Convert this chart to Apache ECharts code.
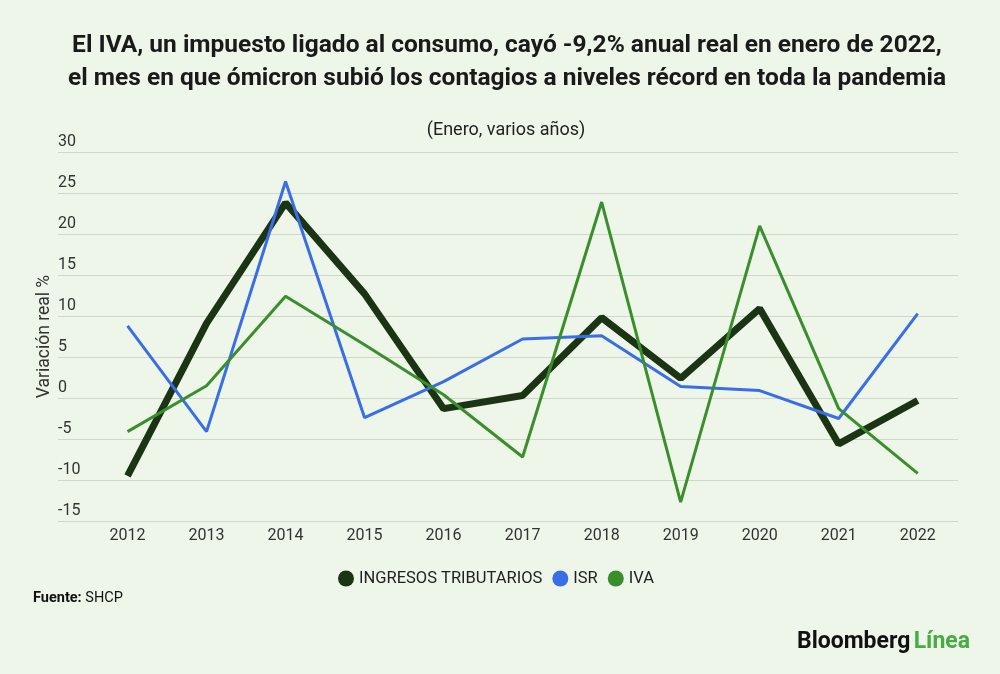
<!DOCTYPE html>
<html>
<head>
<meta charset="utf-8">
<script src="https://cdn.jsdelivr.net/npm/echarts@6/dist/echarts.min.js"></script>
<style>
  html, body { margin: 0; padding: 0; background: #edf6e9; }
  #chart { width: 1000px; height: 674px; }
</style>
</head>
<body>
<div id="chart"></div>
<script>
// datos (enero de cada año, variación real %)
const years = [2012, 2013, 2014, 2015, 2016, 2017, 2018, 2019, 2020, 2021, 2022];
const ingresos = [-9.5, 9.1, 23.8, 12.7, -1.3, 0.3, 9.8, 2.4, 10.9, -5.6, -0.3];
const isr = [8.8, -4.1, 26.4, -2.4, 2.0, 7.2, 7.6, 1.4, 0.9, -2.5, 10.3];
const iva = [-4.1, 1.5, 12.4, 6.5, 0.4, -7.2, 23.9, -12.7, 21.0, -1.3, -9.2];

const font = "Roboto, 'Noto Sans', sans-serif";

function pairs(values) {
  return years.map((y, i) => [y, values[i]]);
}

const myChart = echarts.init(document.getElementById("chart"));

const option = {
  backgroundColor: "#edf6e9",
  animation: false,
  textStyle: { fontFamily: font },
  title: [
    {
      text: "El IVA, un impuesto ligado al consumo, cayó -9,2% anual real en enero de 2022,\nel mes en que ómicron subió los contagios a niveles récord en toda la pandemia",
      left: 502,
      top: 24,
      textAlign: "center",
      textStyle: {
        fontFamily: font,
        fontSize: 24.5,
        fontWeight: "bold",
        color: "#1a1a1a",
        lineHeight: 33,
      },
    },
    {
      text: "(Enero, varios años)",
      left: 501,
      top: 116,
      textAlign: "center",
      textStyle: { fontFamily: font, fontSize: 18, fontWeight: "normal", color: "#222" },
    },
  ],
  grid: { left: 58, right: 42, top: 152, bottom: 153 },
  xAxis: {
    type: "value",
    min: 2011.12,
    max: 2022.51,
    axisLine: { show: false },
    axisTick: { show: false },
    splitLine: { show: false },
    axisLabel: {
      customValues: years,
      formatter: (v) => String(v),
      fontSize: 16,
      color: "#333",
      margin: 7,
      fontFamily: font,
    },
  },
  yAxis: {
    type: "value",
    min: -15,
    max: 30,
    interval: 5,
    name: "Variación real %",
    nameLocation: "middle",
    nameRotate: 90,
    nameGap: 4,
    nameMoveOverlap: false,
    nameTextStyle: { fontSize: 17.5, color: "#333", fontFamily: font },
    axisLine: { show: false },
    axisTick: { show: false },
    splitLine: { lineStyle: { color: "#cfd6cb", width: 1 } },
    axisLabel: {
      inside: true,
      margin: 0,
      align: "left",
      verticalAlign: "bottom",
      padding: [0, 0, 2, 0],
      fontSize: 16,
      color: "#333",
      fontFamily: font,
    },
  },
  legend: {
    top: 565,
    left: 333,
    icon: "circle",
    itemWidth: 16,
    itemHeight: 16,
    itemGap: 10,
    textStyle: { fontSize: 16.5, color: "#222", fontFamily: font },
    data: ["INGRESOS TRIBUTARIOS", "ISR", "IVA"],
  },
  series: [
    {
      name: "INGRESOS TRIBUTARIOS",
      type: "line",
      data: pairs(ingresos),
      showSymbol: false,
      symbol: "circle",
      color: "#1b3514",
      lineStyle: { width: 7, color: "#1b3514" },
      z: 3,
    },
    {
      name: "ISR",
      type: "line",
      data: pairs(isr),
      showSymbol: false,
      symbol: "circle",
      color: "#3a6ee8",
      lineStyle: { width: 3, color: "#3a6ee8" },
      z: 4,
    },
    {
      name: "IVA",
      type: "line",
      data: pairs(iva),
      showSymbol: false,
      symbol: "circle",
      color: "#3a8f2c",
      lineStyle: { width: 3, color: "#3a8f2c" },
      z: 5,
    },
  ],
  graphic: [
    {
      type: "text",
      left: 33,
      top: 591,
      style: {
        text: "{b|Fuente:} SHCP",
        rich: { b: { fontWeight: "bold", fontSize: 14.5, fontFamily: font, fill: "#111" } },
        fontSize: 14.5,
        fontFamily: font,
        fill: "#111",
      },
    },
    {
      type: "text",
      right: 30,
      top: 631,
      style: {
        text: "{a|Bloomberg} {g|Línea}",
        rich: {
          a: { fontWeight: "bold", fontSize: 23, fontFamily: font, fill: "#111" },
          g: { fontWeight: "bold", fontSize: 23, fontFamily: font, fill: "#45ad42" },
        },
      },
    },
  ],
};

myChart.setOption(option);
</script>
</body>
</html>
